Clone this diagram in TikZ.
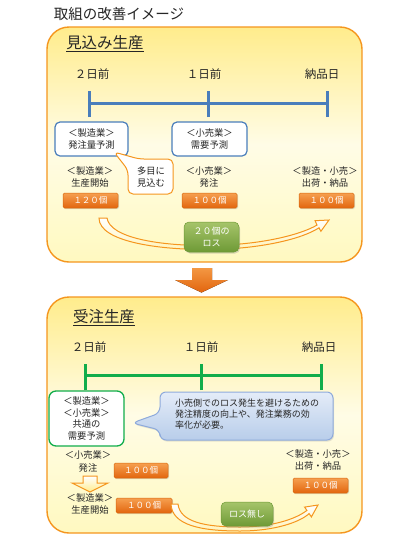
\documentclass[tikz,border=0pt]{standalone}
\usepackage{fontspec}
\setmainfont{Noto Sans CJK JP}
\usetikzlibrary{shadows}
\definecolor{pborder}{HTML}{F5961E}
\definecolor{ptop}{HTML}{FFEC8C}
\definecolor{pmid}{HTML}{FFFCE6}
\definecolor{pbot}{HTML}{FFF9C0}
\definecolor{tlblue}{HTML}{4A7EBB}
\definecolor{tlgreen}{HTML}{11AD4B}
\definecolor{obtop}{HTML}{F6A050}
\definecolor{obbot}{HTML}{E2650E}
\definecolor{obdraw}{HTML}{D8690F}
\definecolor{gbtop}{HTML}{A6C46A}
\definecolor{gbbot}{HTML}{6E9A36}
\definecolor{cbtop}{HTML}{E4ECF8}
\definecolor{cbbot}{HTML}{B8CDEA}
\definecolor{cbdraw}{HTML}{8EAADB}
\definecolor{arrowor}{HTML}{E8760E}
\definecolor{txt}{HTML}{262626}
\tikzset{
  panel/.style={draw=pborder,line width=1.4pt,rounded corners=22pt,top color=ptop,bottom color=pbot,middle color=pmid},
  bluebox/.style={draw=tlblue,line width=1.2pt,fill=white,rounded corners=5pt},
  greenbox/.style={draw=tlgreen,line width=1.3pt,fill=white,rounded corners=7pt},
  obox/.style={draw=obdraw,line width=0.5pt,top color=obtop,bottom color=obbot,rounded corners=1.5pt,
     drop shadow={opacity=0.25,shadow xshift=1pt,shadow yshift=-1.2pt}},
  gbox/.style={draw=gbbot,line width=0.5pt,top color=gbtop,bottom color=gbbot,rounded corners=5pt,
     drop shadow={opacity=0.3,shadow xshift=1pt,shadow yshift=-1.5pt}},
  lbl/.style={inner sep=0pt,align=center,text=txt,font=\fontsize{9.3}{12.5}\selectfont},
  tl/.style={inner sep=0pt,text=txt,font=\fontsize{11.5}{13}\selectfont},
  otext/.style={inner sep=0pt,text=white,font=\fontsize{8.5}{10}\selectfont},
  gtext/.style={inner sep=0pt,align=center,text=white,font=\fontsize{9}{11.5}\selectfont},
  band/.style={draw=pborder,line width=1pt,top color=white,bottom color=ptop!60},
}
\begin{document}
\begin{tikzpicture}[x=1pt,y=-1pt]
\useasboundingbox[fill=white] (0,0) rectangle (410,539);
% title
\node[inner sep=0pt,text=txt,font=\fontsize{14.5}{16}\selectfont] (title) at (119,14) {取組の改善イメージ};
% ---------- top panel
\draw[panel] (47,27) rectangle (362,262);
\node[inner sep=0pt,text=txt,font=\fontsize{15.5}{17}\selectfont] (h1) at (105,44) {\underline{見込み生産}};
\node[tl] (a2) at (92,74) {２日前};
\node[tl] (a1) at (204,74) {１日前};
\node[tl] (a0) at (322,74) {納品日};
\coordinate (t2) at (89,103);
\coordinate (t1) at (208,103);
\coordinate (t0) at (327,103);
\draw[tlblue,line width=3pt] (t2) -- (t0);
\foreach \p in {t2,t1,t0}{\draw[tlblue,line width=3pt] ([yshift=-14pt]\p) -- ([yshift=12pt]\p);}
\node[bluebox,minimum width=73pt,minimum height=34pt] (b1) at (91.5,139) {};
\node[lbl] (b1t) at (b1) {＜製造業＞\\発注量予測};
\node[bluebox,minimum width=75pt,minimum height=34pt] (b2) at (209.5,139) {};
\node[lbl] (b2t) at (b2) {＜小売業＞\\需要予測};
% callout
\draw[draw=pborder,line width=1pt,fill=white,rounded corners=5pt] (139,159) -- (114,152) -- (128,170) -- (128,194) -- (173,194) -- (173,159) -- cycle;
\node[lbl] (c1) at (151,177) {多目に\\見込む};
\node[lbl] (s1) at (90,177) {＜製造業＞\\生産開始};
\node[lbl] (s2) at (209,177) {＜小売業＞\\発注};
\node[lbl] (s3) at (325,177) {＜製造・小売＞\\出荷・納品};
\node[obox,minimum width=55pt,minimum height=15pt] (o1) at (90.5,200.5) {};
\node[otext] at (o1) {１２０個};
\node[obox,minimum width=55pt,minimum height=15pt] (o2) at (209.5,200.5) {};
\node[otext] at (o2) {１００個};
\node[obox,minimum width=55pt,minimum height=15pt] (o3) at (326.5,200.5) {};
\node[otext] at (o3) {１００個};
% curved arrow top
\draw[band] (99,218) .. controls (99,242) and (160,250) .. (210,249.5)
  .. controls (260,249) and (302,239) .. (319,227.8)
  -- (320.9,231.3) -- (329,220) -- (315.1,220.7) -- (317,225.1)
  .. controls (300,235) and (260,245) .. (210,245.5)
  .. controls (160,246) and (110,238) .. (107,218) -- cycle;
\node[gbox,minimum width=55pt,minimum height=30pt] (g1) at (211.5,237) {};
\node[gtext] at (g1) {２０個の\\ロス};
% big down arrow
\fill[top color=obtop!80!arrowor,bottom color=obbot] (192,268) -- (212,268) -- (212,280) -- (228,280) -- (201.5,292.5) -- (175,280) -- (192,280) -- cycle;
% ---------- bottom panel
\draw[panel] (47,297) rectangle (362,533);
\node[inner sep=0pt,text=txt,font=\fontsize{15.5}{17}\selectfont] (h2) at (104,318) {\underline{受注生産}};
\node[tl] (d2) at (89,347) {２日前};
\node[tl] (d1) at (201,347) {１日前};
\node[tl] (d0) at (319,347) {納品日};
\coordinate (u2) at (85,375);
\coordinate (u1) at (201,375);
\coordinate (u0) at (321,375);
\draw[tlgreen,line width=3pt] (u2) -- (u0);
\foreach \p in {u2,u1,u0}{\draw[tlgreen,line width=3pt] ([yshift=-15pt]\p) -- ([yshift=11pt]\p);}
\node[greenbox,minimum width=75pt,minimum height=55pt] (gb) at (86.5,418.5) {};
\node[lbl,font=\fontsize{9.3}{11.6}\selectfont] (gbt) at (gb) {＜製造業＞\\＜小売業＞\\共通の\\需要予測};
% blue callout
\draw[draw=cbdraw,line width=1pt,top color=cbtop,bottom color=cbbot,rounded corners=6pt,
  drop shadow={opacity=0.2,shadow xshift=1pt,shadow yshift=-1.5pt}]
  (160,413) -- (160,392) -- (333,392) -- (333,440) -- (160,440) -- (160,430) -- (132,423) -- cycle;
\node[inner sep=0pt,align=left,anchor=north west,text=txt,font=\fontsize{9}{11}\selectfont] (cbt) at (175,399) {小売側でのロス発生を避けるための\\発注精度の向上や、発注業務の効\\率化が必要。};
\node[lbl] (e1) at (88,461.5) {＜小売業＞\\発注};
\node[obox,minimum width=54pt,minimum height=15pt] (p1) at (141,470.5) {};
\node[otext] at (p1) {１００個};
% small hollow arrow
\draw[draw=pborder,line width=1pt,top color=white,bottom color=ptop] (83,476) -- (97,476) -- (97,483) -- (108,483) -- (90,492) -- (72,483) -- (83,483) -- cycle;
\node[lbl] (e2) at (90,504) {＜製造業＞\\生産開始};
\node[obox,minimum width=56pt,minimum height=15pt] (p2) at (144,505.5) {};
\node[otext] at (p2) {１００個};
\node[lbl] (e3) at (318,460) {＜製造・小売＞\\出荷・納品};
\node[obox,minimum width=55pt,minimum height=15pt] (p3) at (320.5,485.5) {};
\node[otext] at (p3) {１００個};
% curved arrow bottom
\draw[band] (171,504) .. controls (172,525) and (200,531) .. (240,531)
  .. controls (275,531) and (300,522) .. (309.1,513.6)
  -- (311.4,516.9) -- (318,505) -- (304.6,507.1) -- (306.9,510.4)
  .. controls (296,519) and (272,527) .. (240,527)
  .. controls (205,527) and (180,522) .. (178,504) -- cycle;
\node[gbox,minimum width=52pt,minimum height=24pt] (g2) at (247,514) {};
\node[gtext] at (g2) {ロス無し};
\end{tikzpicture}
\end{document}
